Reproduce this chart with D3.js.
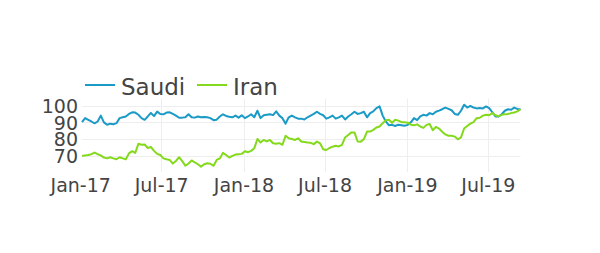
<!DOCTYPE html>
<html>
<head>
<meta charset="utf-8">
<script src="https://cdn.jsdelivr.net/npm/d3@7"></script>
<style>
  body { margin: 0; background: #fff; }
  text { font-family: "DejaVu Sans", Verdana, sans-serif; fill: #444; }
</style>
</head>
<body>
<svg id="chart" width="600" height="253"></svg>
<script>
// DATA
// weekly series, first week
var startDate = "2017-01-05";
var seriesNames = ["Saudi", "Iran"];
var seriesColors = ["#1a9ac6", "#84d91c"];

var saudi = [
  90.1, 92.5, 91.5, 90.5, 89.4, 90.5, 94, 90, 88.6, 89.2, 88.8, 89.5, 92.5, 93, 93.5, 95, 96, 95.8,
  94.5, 92.5, 91.5, 93.5, 95.6, 93.7, 96.4, 95, 94.8, 95.8, 96, 95, 94, 92.7, 92.8, 93, 94.8, 93,
  92.8, 93.5, 93, 93.2, 93, 92.5, 91.3, 91.6, 93.5, 94.8, 93.8, 93.3, 93, 94, 92.8, 94.2, 92.5, 93.5,
  94.8, 93, 96.9, 92.5, 94.2, 94.5, 94.8, 94.3, 96.5, 94, 92.5, 89.2, 93, 94, 93, 92.2, 92.2,
  91.7, 93, 94, 95, 96.3, 95, 94.2, 92.2, 93, 94, 92.2, 93, 94, 91.7, 93.5, 94.8, 96.3, 95, 95.5,
  96.3, 93, 95.5, 96.5, 98.5, 99.5, 94, 90.5, 88.2, 88.5, 87.8, 88.6, 88.3, 88,
  88.5, 90, 92.5, 91.3, 93.5, 94.5, 94, 95.5, 94.8, 96.3, 97, 97.8, 98.8, 98, 97.2, 95, 94.5, 96.9,
  100.5, 98.8, 99.8, 98.8, 98.3, 98.5, 98.3, 99.5, 98.5, 96, 93.5, 93.5, 94.8, 96.9, 97.8, 97.5, 98.8, 98, 97.8
];

var iran = [
  69.9, 70.3, 70.5, 71, 72, 71, 70.3, 69, 68.5, 69.2, 68.5, 68, 69.2, 68.5, 68, 71.5, 72.8, 71.8,
  77.2, 76.6, 76.8, 74.7, 75.3, 73, 71.2, 70.5, 68.5, 68, 67.6, 65.4, 67, 69.2, 66.9, 64.1, 65.5, 67.3,
  66.2, 65, 63.6, 65, 65.6, 65.3, 64.1, 67.6, 68.5, 71.8, 70.5, 69, 70, 70.8, 71, 71.2, 72.8, 72.2,
  73, 74.5, 80.1, 78, 79.5, 78.6, 79.5, 77.5, 77.3, 77.6, 76.6, 82, 80.5, 80.1, 79.5, 80.5, 78.6,
  78.3, 78, 77.8, 77, 78.5, 77.5, 74, 73.5, 74.7, 75.5, 76, 75.6, 76.6, 81, 82.5, 84, 84, 78.6, 78.5,
  80, 84.5, 84.5, 85.5, 86.9, 87.5, 89.5, 91.2, 91.5, 89.8, 91.5, 91, 90.1, 90, 89.8, 88.6,
  88.2, 88.8, 87.5, 86.7, 88.5, 89, 85.3, 87.3, 86.3, 84.4, 82.8, 82, 82, 81.5, 79.9, 81, 86.3, 87.8,
  89.2, 90.1, 92.5, 92.7, 94, 94.5, 94.2, 95.5, 94.2, 93.6, 94.5, 94.8, 95, 95.5, 95.9, 96.5, 97.8
];

var xTicks = ["2017-01-01", "2017-07-01", "2018-01-01", "2018-07-01", "2019-01-01", "2019-07-01"];
var yTicks = [70, 80, 90, 100];

// dates for each week
var parse = d3.utcParse("%Y-%m-%d");
var start = parse(startDate);
var dates = saudi.map(function(d, i) { return d3.utcDay.offset(start, 7 * i); });

var svg = d3.select("#chart");

// plot area
var plotL = 82, plotR = 520.5, plotT = 98.5, plotB = 172;

var x = d3.scaleUtc()
  .domain([dates[0], dates[dates.length - 1]])
  .range([plotL, plotR]);

var y = d3.scaleLinear()
  .domain([60.4, 104.2])
  .range([plotB, plotT]);

// grid
var grid = svg.append("g");
grid.selectAll(".hgrid")
  .data(yTicks)
  .enter()
  .append("line")
  .attr("x1", plotL).attr("x2", plotR)
  .attr("y1", function(d) { return Math.round(y(d)) + 0.5; })
  .attr("y2", function(d) { return Math.round(y(d)) + 0.5; })
  .attr("stroke", "#eee")
  .attr("stroke-width", 1);

grid.selectAll(".vgrid")
  .data(xTicks.map(parse).filter(function(d) { return x(d) > plotL + 1; }))
  .enter()
  .append("line")
  .attr("x1", function(d) { return Math.round(x(d)) + 0.5; })
  .attr("x2", function(d) { return Math.round(x(d)) + 0.5; })
  .attr("y1", plotT).attr("y2", plotB)
  .attr("stroke", "#eee")
  .attr("stroke-width", 1);

// axes (labels only, no domain lines)
var xAxis = d3.axisBottom(x)
  .tickValues(xTicks.map(parse))
  .tickFormat(d3.utcFormat("%b-%y"))
  .tickSize(0)
  .tickPadding(0);

var gx = svg.append("g")
  .attr("transform", "translate(0," + plotB + ")")
  .call(xAxis);
gx.select(".domain").remove();
gx.selectAll("text")
  .attr("y", 20)
  .attr("dy", 0)
  .style("font-size", "19px")
  .style("font-family", '"DejaVu Sans", Verdana, sans-serif')
  .attr("fill", "#444");

var yAxis = d3.axisLeft(y)
  .tickValues(yTicks)
  .tickSize(0)
  .tickPadding(4);

var gy = svg.append("g")
  .attr("transform", "translate(" + plotL + ",0)")
  .call(yAxis);
gy.select(".domain").remove();
gy.selectAll("text")
  .attr("dy", "0.36em")
  .style("font-size", "19px")
  .style("font-family", '"DejaVu Sans", Verdana, sans-serif')
  .attr("fill", "#444");

// lines
var line = d3.line()
  .x(function(d, i) { return x(dates[i]); })
  .y(function(d) { return y(d); });

[saudi, iran].forEach(function(s, k) {
  svg.append("path")
    .datum(s)
    .attr("d", line)
    .attr("fill", "none")
    .attr("stroke", seriesColors[k])
    .attr("stroke-width", 2)
    .attr("stroke-linejoin", "round");
});

// legend
var legendX = [85, 197];
var legend = svg.selectAll(".legend")
  .data(seriesNames)
  .enter()
  .append("g")
  .attr("transform", function(d, i) { return "translate(" + legendX[i] + ",85)"; });

legend.append("line")
  .attr("x1", 0).attr("x2", 30)
  .attr("y1", 0).attr("y2", 0)
  .attr("stroke", function(d, i) { return seriesColors[i]; })
  .attr("stroke-width", 2);

legend.append("text")
  .attr("x", 36)
  .attr("y", 10)
  .style("font-size", "23px")
  .text(function(d) { return d; });
</script>
</body>
</html>
